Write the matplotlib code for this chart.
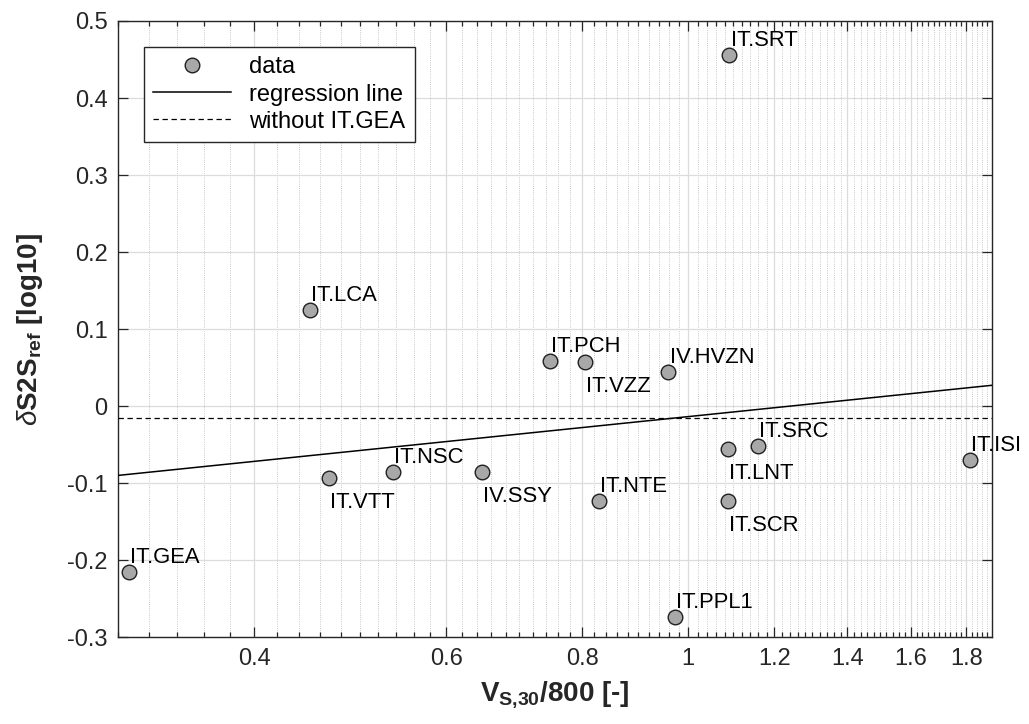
#!/usr/bin/env python3
"""dS2S_ref vs normalised Vs30 with station labels (log x axis)."""

import matplotlib

matplotlib.use("Agg")
import matplotlib.pyplot as plt
import numpy as np
from matplotlib.ticker import FixedLocator, FuncFormatter, NullFormatter

# station data
stations = ["IT.GEA", "IT.VTT", "IT.NSC", "IV.SSY", "IT.LCA", "IT.PCH", "IT.VZZ",
            "IT.NTE", "IV.HVZN", "IT.PPL1", "IT.LNT", "IT.SCR", "IT.SRC", "IT.SRT",
            "IT.ISI"]
vs30_norm = [0.307, 0.468, 0.536, 0.647, 0.450, 0.747, 0.804,
             0.828, 0.959, 0.972, 1.088, 1.088, 1.158, 1.091,
             1.813]
ds2s = [-0.215, -0.094, -0.085, -0.086, 0.125, 0.059, 0.057,
        -0.123, 0.044, -0.274, -0.056, -0.123, -0.052, 0.456,
        -0.070]
label_side = ["above", "below", "above", "below", "above", "above", "below",
              "above", "above", "above", "below", "below", "above", "above",
              "above"]

# regression: y = a + b*log10(x)
reg_intercept = -0.0137
reg_slope = 0.146
# regression without IT.GEA (flat)
reg_no_gea = -0.0152

x_ticks = [0.4, 0.6, 0.8, 1.0, 1.2, 1.4, 1.6, 1.8]
y_ticks = [-0.3, -0.2, -0.1, 0.0, 0.1, 0.2, 0.3, 0.4, 0.5]
x_lim = (0.3, 1.9)
y_lim = (-0.3, 0.5)

plt.rcParams["font.family"] = ["Liberation Sans", "DejaVu Sans"]
plt.rcParams["mathtext.fontset"] = "custom"
plt.rcParams["mathtext.rm"] = "Liberation Sans"
plt.rcParams["mathtext.it"] = "Liberation Sans:italic"
plt.rcParams["mathtext.bf"] = "Liberation Sans:bold"

AX_COL = "#262626"


def main():
    fig = plt.figure(figsize=(10.29, 7.24), dpi=100)
    ax = fig.add_axes([0.1147, 0.120, 0.8494, 0.851])

    ax.set_xscale("log")
    ax.set_xlim(*x_lim)
    ax.set_ylim(*y_lim)

    ax.xaxis.set_major_locator(FixedLocator(x_ticks))
    ax.xaxis.set_major_formatter(FuncFormatter(lambda v, p: f"{v:g}"))
    ax.xaxis.set_minor_locator(FixedLocator(np.round(np.arange(0.30, 1.90, 0.02), 2)))
    ax.xaxis.set_minor_formatter(NullFormatter())
    ax.yaxis.set_major_locator(FixedLocator(y_ticks))
    ax.yaxis.set_major_formatter(FuncFormatter(lambda v, p: f"{v:g}"))

    ax.grid(True, which="major", axis="both", color="#dcdcdc", linewidth=0.9, zorder=0)
    ax.grid(True, which="minor", axis="x", color="#b8b8b8", linewidth=0.6,
            linestyle=(0, (1.0, 1.6)), zorder=0)
    ax.set_axisbelow(True)

    ax.tick_params(which="both", direction="in", top=True, right=True, colors=AX_COL,
                   width=0.9)
    ax.tick_params(which="major", length=7, labelsize=17, pad=7.5)
    ax.tick_params(which="minor", length=3.5)
    for sp in ax.spines.values():
        sp.set_color(AX_COL)
        sp.set_linewidth(1.0)

    ax.plot(vs30_norm, ds2s, linestyle="none", marker="o", markersize=10.5,
            markerfacecolor="#a8a8a8", markeredgecolor="#202020", markeredgewidth=1.0,
            label="data", zorder=4)

    xx = np.geomspace(x_lim[0], x_lim[1], 50)
    ax.plot(xx, reg_intercept + reg_slope * np.log10(xx), color="black", linewidth=1.1,
            label="regression line", zorder=3)
    ax.plot(xx, np.full_like(xx, reg_no_gea), color="black", linewidth=0.9,
            linestyle=(0, (4.3, 2.9)), label="without IT.GEA", zorder=3)

    for name, x, y, side in zip(stations, vs30_norm, ds2s, label_side):
        if side == "above":
            ax.annotate(name, (x, y), xytext=(1, 6.5), textcoords="offset points",
                        ha="left", va="baseline", fontsize=15.8, color="black",
                        annotation_clip=False, zorder=5)
        else:
            ax.annotate(name, (x, y), xytext=(1, -10), textcoords="offset points",
                        ha="left", va="top", fontsize=15.8, color="black",
                        annotation_clip=False, zorder=5)

    ax.set_xlabel(r"V$_{\mathbf{S{,}30}}$/800 [-]", fontsize=20, fontweight="bold",
                  color=AX_COL)
    ax.set_ylabel(r"$\mathit{\delta}$S2S$_{\mathbf{ref}}$ [log10]", fontsize=20,
                  fontweight="bold", color=AX_COL)
    ax.xaxis.set_label_coords(0.5, -0.068)
    ax.yaxis.set_label_coords(-0.083, 0.5)

    leg = ax.legend(loc="upper left", bbox_to_anchor=(0.0297, 0.958), borderaxespad=0,
                    fontsize=17, numpoints=1, handlelength=3.3, handletextpad=0.75,
                    borderpad=0.4, labelspacing=0.22, fancybox=False, framealpha=1)
    leg.get_frame().set_edgecolor(AX_COL)
    leg.get_frame().set_linewidth(1.0)

    fig.savefig("out.png", dpi=100, facecolor="white")
    plt.close(fig)


if __name__ == "__main__":
    main()
